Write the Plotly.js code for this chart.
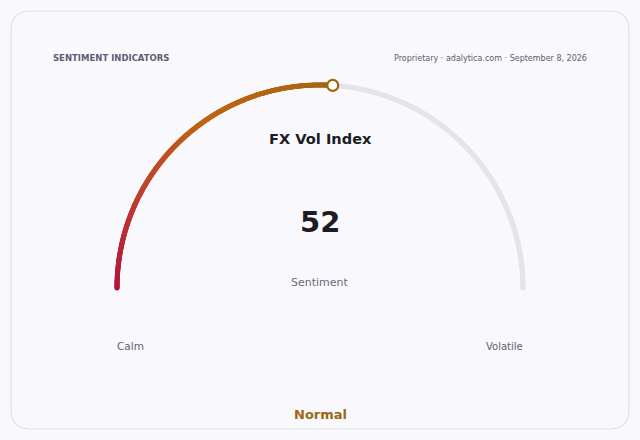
<!DOCTYPE html>
<html>
<head>
<meta charset="utf-8">
<script src="https://cdn.plot.ly/plotly-3.0.1.min.js"></script>
<style>
  html, body { margin: 0; padding: 0; background: #f9f9fd; }
  #chart { width: 640px; height: 440px; }
</style>
</head>
<body>
<div id="chart"></div>
<script>
// gauge data
const gaugeTitle = 'FX Vol Index';
const gaugeValue = 52;
const gaugeMin = 0;
const gaugeMax = 100;
const gaugeLabel = 'Sentiment';
const gaugeStatus = 'Normal';
const endLabels = ['Calm', 'Volatile'];

// points along a unit half circle, from `from` to `to` (gauge units)
function arcPoints(from, to, n) {
  const xs = [], ys = [], cs = [];
  for (let i = 0; i <= n; i++) {
    const v = n === 0 ? to : from + (to - from) * i / n;
    const a = Math.PI * (1 - (v - gaugeMin) / (gaugeMax - gaugeMin));
    xs.push(Math.cos(a));
    ys.push(Math.sin(a));
    cs.push(v);
  }
  return { xs, ys, cs };
}

const track = arcPoints(gaugeMin, gaugeMax, 700);
const fill = arcPoints(gaugeMin, gaugeValue, 400);
const tip = arcPoints(gaugeValue, gaugeValue, 0);

const data = [
  {
    type: 'scatter', mode: 'markers', x: track.xs, y: track.ys,
    marker: { size: 5, color: '#e4e4ea' }, hoverinfo: 'skip'
  },
  {
    type: 'scatter', mode: 'markers', x: fill.xs, y: fill.ys,
    marker: {
      size: 5, color: fill.cs, cmin: gaugeMin, cmax: gaugeValue,
      colorscale: [[0, '#b3123f'], [0.3, '#c0402e'], [0.6, '#c06512'], [1, '#a6650f']]
    },
    hoverinfo: 'skip'
  },
  {
    type: 'scatter', mode: 'markers', x: tip.xs, y: tip.ys,
    marker: { size: 11, color: '#ffffff', line: { color: '#9e6410', width: 2.2 } },
    hoverinfo: 'skip'
  }
];

// card outline with rounded corners, paper coordinates
const rx = 20 / 640, ry = 20 / 440;
const L = 11 / 640, R = 629 / 640, T = 1 - 11 / 440, B = 1 - 429 / 440;
const card = `M ${L + rx},${T} L ${R - rx},${T} Q ${R},${T} ${R},${T - ry} L ${R},${B + ry} Q ${R},${B} ${R - rx},${B} L ${L + rx},${B} Q ${L},${B} ${L},${B + ry} L ${L},${T - ry} Q ${L},${T} ${L + rx},${T} Z`;

const font = 'DejaVu Sans, sans-serif';
const layout = {
  width: 640, height: 440,
  margin: { l: 0, r: 0, t: 0, b: 0 },
  paper_bgcolor: '#f9f9fd',
  plot_bgcolor: 'rgba(0,0,0,0)',
  showlegend: false,
  xaxis: { range: [-1.5764, 1.5764], visible: false, fixedrange: true },
  yaxis: { range: [-0.7488, 1.4187], visible: false, fixedrange: true },
  shapes: [{
    type: 'path', xref: 'paper', yref: 'paper', path: card,
    fillcolor: '#f9f9fd', line: { color: '#e1e1e9', width: 1.2 }, layer: 'below'
  }],
  annotations: [
    { text: '<b>SENTIMENT INDICATORS</b>', xref: 'paper', yref: 'paper', x: 51 / 640, y: 1 - 58 / 440,
      xanchor: 'left', yanchor: 'middle', showarrow: false, font: { family: font, size: 8.5, color: '#5d5d72' } },
    { text: 'Proprietary · adalytica.com · September 8, 2026', xref: 'paper', yref: 'paper', x: 589 / 640, y: 1 - 58 / 440,
      xanchor: 'right', yanchor: 'middle', showarrow: false, font: { family: font, size: 8, color: '#5d5d6e' } },
    { text: '<b>' + gaugeTitle + '</b>', xref: 'paper', yref: 'paper', x: 0.5, y: 1 - 138 / 440,
      xanchor: 'center', yanchor: 'middle', showarrow: false, font: { family: font, size: 14.6, color: '#1c1c24' } },
    { text: '<b>' + gaugeValue + '</b>', xref: 'paper', yref: 'paper', x: 0.5, y: 1 - 222 / 440,
      xanchor: 'center', yanchor: 'middle', showarrow: false, font: { family: font, size: 29, color: '#1c1c24' } },
    { text: gaugeLabel, xref: 'paper', yref: 'paper', x: 0.5, y: 1 - 282 / 440,
      xanchor: 'center', yanchor: 'middle', showarrow: false, font: { family: font, size: 11, color: '#6a6a78' } },
    { text: endLabels[0], xref: 'paper', yref: 'paper', x: 130 / 640, y: 1 - 346 / 440,
      xanchor: 'center', yanchor: 'middle', showarrow: false, font: { family: font, size: 10.5, color: '#626270' } },
    { text: endLabels[1], xref: 'paper', yref: 'paper', x: 504 / 640, y: 1 - 346 / 440,
      xanchor: 'center', yanchor: 'middle', showarrow: false, font: { family: font, size: 10, color: '#626270' } },
    { text: '<b>' + gaugeStatus + '</b>', xref: 'paper', yref: 'paper', x: 0.5, y: 1 - 414 / 440,
      xanchor: 'center', yanchor: 'middle', showarrow: false, font: { family: font, size: 13, color: '#9a6810' } }
  ]
};

Plotly.newPlot('chart', data, layout, { displayModeBar: false, staticPlot: true });
</script>
</body>
</html>
